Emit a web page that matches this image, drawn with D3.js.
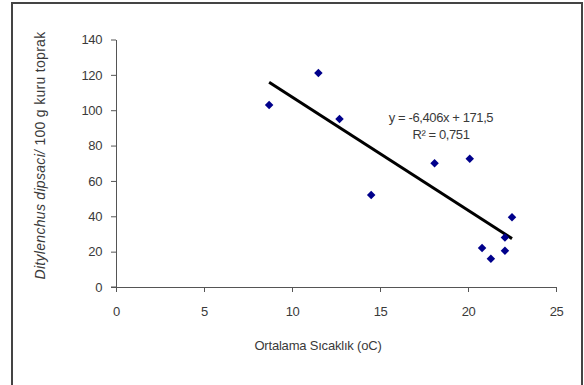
<!DOCTYPE html>
<html>
<head>
<meta charset="utf-8">
<script src="https://cdn.jsdelivr.net/npm/d3@7"></script>
<style>
  body { margin: 0; background: #fff; }
  svg { display: block; font-family: "Liberation Sans", Arial, sans-serif; }
</style>
</head>
<body>
<div id="chart"></div>
<script>
// Temperature (x) vs nematode count (y)
const temps = [8.7, 11.5, 12.7, 14.5, 18.1, 20.1, 20.8, 21.3, 22.1, 22.1, 22.5];
const counts = [103, 121, 95, 52, 70, 72.5, 22, 16, 28, 20.5, 39.5];
const xTicks = [0, 5, 10, 15, 20, 25];
const yTicks = [0, 20, 40, 60, 80, 100, 120, 140];
const slope = -6.406, intercept = 171.5;
const eqLines = ["y = -6,406x + 171,5", "R² = 0,751"];

const width = 584, height = 385;
const svg = d3.select("#chart").append("svg")
  .attr("width", width)
  .attr("height", height);

// outer chart frame
svg.append("rect")
  .attr("x", 12).attr("y", 3)
  .attr("width", 570).attr("height", 400)
  .attr("fill", "none")
  .attr("stroke", "#444")
  .attr("stroke-width", 2);

const x = d3.scaleLinear().domain([0, 25]).range([116, 556]);
const y = d3.scaleLinear().domain([0, 140]).range([287, 39.5]);

const textColor = "#3a3a3a";
const fontSize = "13px";
const spacing = "-0.4px";

// y axis
const yAxis = svg.append("g")
  .attr("transform", `translate(${x(0)},0)`)
  .call(d3.axisLeft(y).tickValues(yTicks).tickSize(5).tickPadding(9).tickSizeOuter(0));
// x axis
const xAxis = svg.append("g")
  .attr("transform", `translate(0,${y(0)})`)
  .call(d3.axisBottom(x).tickValues(xTicks).tickSize(5).tickPadding(15).tickSizeOuter(0));

[xAxis, yAxis].forEach(g => {
  g.select(".domain").attr("stroke", "#555");
  g.selectAll(".tick line").attr("stroke", "#555");
  g.selectAll(".tick text")
    .attr("fill", textColor)
    .style("font-size", fontSize)
    .style("letter-spacing", spacing);
});
xAxis.append("line")
  .attr("x1", x(0) - 5).attr("x2", x(0))
  .attr("stroke", "#555");

// trendline
const xs = d3.extent(temps);
svg.append("line")
  .attr("x1", x(xs[0])).attr("y1", y(slope * xs[0] + intercept))
  .attr("x2", x(xs[1])).attr("y2", y(slope * xs[1] + intercept))
  .attr("stroke", "#000")
  .attr("stroke-width", 3);

// points
const diamond = d3.symbol().type(d3.symbolDiamond2).size(46);
svg.append("g")
  .selectAll("path")
  .data(temps.map((t, i) => [t, counts[i]]))
  .join("path")
  .attr("d", diamond)
  .attr("transform", d => `translate(${x(d[0])},${y(d[1])})`)
  .attr("fill", "#00008b");

// regression equation
svg.append("g")
  .selectAll("text")
  .data(eqLines)
  .join("text")
  .attr("x", 441)
  .attr("y", (d, i) => 121.5 + i * 17)
  .attr("text-anchor", "middle")
  .attr("fill", textColor)
  .style("font-size", fontSize)
  .style("letter-spacing", spacing)
  .text(d => d);

// x axis title
svg.append("text")
  .attr("x", 318).attr("y", 350)
  .attr("text-anchor", "middle")
  .attr("fill", textColor)
  .style("font-size", fontSize)
  .style("letter-spacing", "-0.2px")
  .text("Ortalama Sıcaklık (oC)");

// y axis title
const yt = svg.append("text")
  .attr("transform", "translate(45,155.5) rotate(-90)")
  .attr("text-anchor", "middle")
  .attr("fill", textColor)
  .style("font-size", "14px")
  .style("letter-spacing", "0.3px");
yt.append("tspan").style("font-style", "italic").text("Ditylenchus dipsaci/");
yt.append("tspan").text(" 100 g kuru toprak");
</script>
</body>
</html>
